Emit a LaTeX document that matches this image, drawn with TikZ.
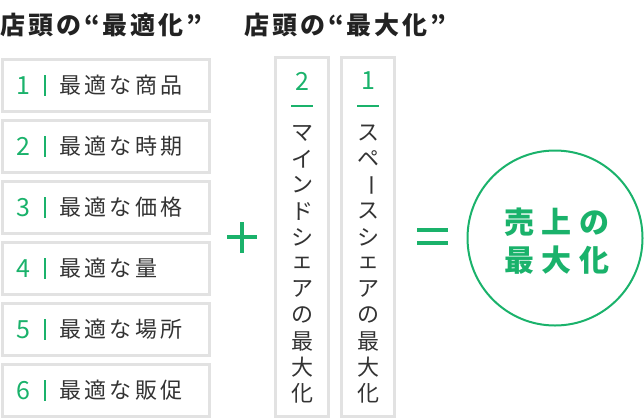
\documentclass[tikz,border=0pt]{standalone}
\usepackage{fontspec}
\setmainfont{Noto Sans CJK JP}
\definecolor{grn}{RGB}{26,178,107}
\definecolor{bord}{RGB}{226,226,226}
\definecolor{txt}{RGB}{51,51,51}
\definecolor{ttl}{RGB}{34,34,34}
\begin{document}
\begin{tikzpicture}[x=1pt,y=-1pt,
  lbox/.style={draw=bord,line width=3pt,minimum width=207pt,minimum height=52pt,inner sep=0pt},
  vboxst/.style={draw=bord,line width=3pt,minimum width=53.5pt,minimum height=358.5pt,inner sep=0pt},
  num/.style={text=grn,font=\fontsize{25}{28}\selectfont,inner sep=0pt},
  sepbar/.style={fill=grn,minimum width=1.1pt,minimum height=21pt,inner sep=0pt},
  ltxt/.style={text=txt,anchor=west,inner sep=0pt,font=\fontsize{22}{26}\selectfont\addfontfeature{LetterSpace=15}},
  vchar/.style={text=txt,inner sep=0pt,font=\fontsize{22}{26}\selectfont},
  uline/.style={fill=grn,minimum width=22pt,minimum height=1.5pt,inner sep=0pt},
  ttlst/.style={text=ttl,anchor=west,inner sep=0pt,font=\fontsize{25}{29}\selectfont\bfseries\addfontfeature{LetterSpace=12}},
  bar/.style={fill=grn,inner sep=0pt},
  ctxt/.style={text=grn,inner sep=0pt,font=\fontsize{30}{34}\selectfont\bfseries\addfontfeature{LetterSpace=25}},
]
\useasboundingbox (0,0) rectangle (644,418);
% titles
\node[ttlst] (title1) at (0,25) {店頭の“最適化”};
\node[ttlst] (title2) at (244,25) {店頭の“最大化”};
% left boxes
\foreach \i/\t in {1/最適な商品,2/最適な時期,3/最適な価格,4/最適な量,5/最適な場所,6/最適な販促} {
  \pgfmathsetmacro\cy{85.5+61*(\i-1)}
  \node[lbox] (b\i) at (105.5,\cy) {};
  \node[num] (n\i) at (23,\cy) {\i};
  \node[sepbar] (s\i) at (45,\cy) {};
  \node[ltxt] (t\i) at (59,\cy) {\t};
}
% plus
\node[bar,minimum width=30pt,minimum height=4pt] (plush) at (242,237) {};
\node[bar,minimum width=4pt,minimum height=31pt] (plusv) at (242,237) {};
% vertical boxes
\node[vboxst] (v2) at (302.2,236.8) {};
\node[vboxst] (v1) at (368,236.8) {};
\node[num] (vn2) at (302.2,81) {2};
\node[num] (vn1) at (368,81) {1};
\node[uline] (u2) at (302.2,106) {};
\node[uline] (u1) at (368,106) {};
\foreach \c [count=\k] in {マ,イ,ン,ド,シ,ェ,ア,の,最,大,化}
  \node[vchar] (m\k) at (302.2,{133+26*(\k-1)}) {\c};
\foreach \c [count=\k] in {ス,ペ,{\rotatebox{-90}{ー}},ス,シ,ェ,ア,の,最,大,化}
  \node[vchar] (p\k) at (368,{133+26*(\k-1)}) {\c};
% equals
\node[bar,minimum width=31pt,minimum height=4pt] (eq1) at (432.5,230) {};
\node[bar,minimum width=31pt,minimum height=4pt] (eq2) at (432.5,243) {};
% circle
\node[circle,draw=grn,line width=2pt,minimum size=175pt,inner sep=0pt] (c) at (555,238) {};
\node[ctxt] (c1) at (556.5,222) {売上の};
\node[ctxt] (c2) at (556.5,260) {最大化};
\end{tikzpicture}
\end{document}
